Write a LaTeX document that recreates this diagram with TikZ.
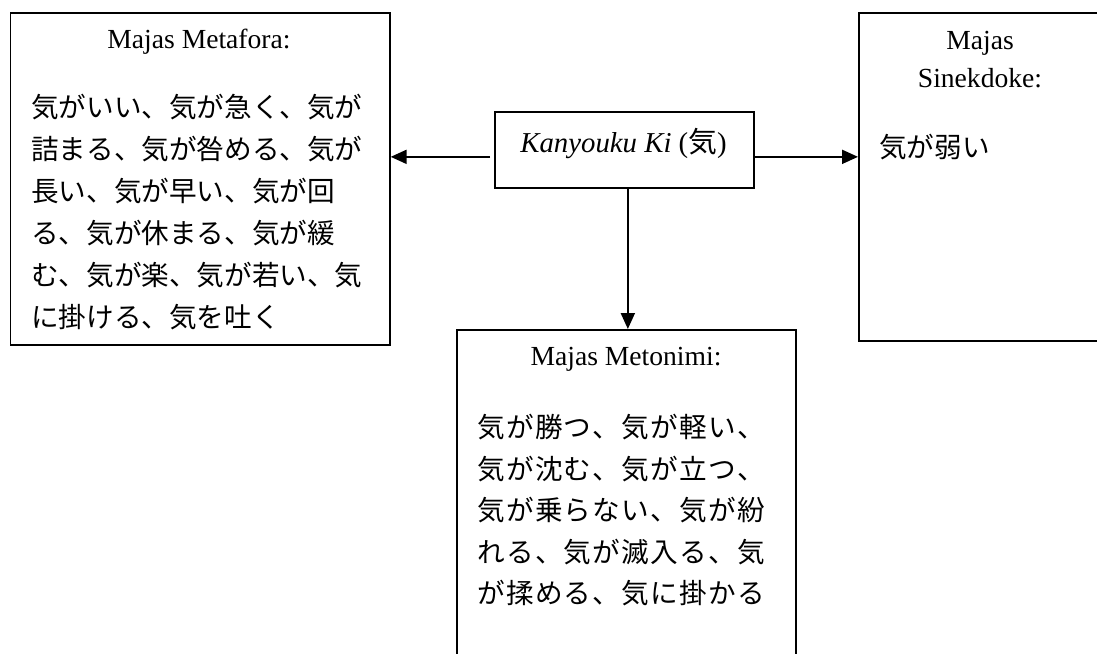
\documentclass[tikz,border=0pt]{standalone}
\usepackage{fontspec}
\setmainfont{Liberation Serif}
\newfontfamily\jp{Noto Sans CJK JP}
\usetikzlibrary{arrows.meta}
\newdimen\jspgap
\makeatletter
\newcommand\jsp[1]{\expandafter\jsp@a#1\relax}
\def\jsp@a#1{#1\jsp@b}
\def\jsp@b#1{\ifx\relax#1\else\kern\jspgap#1\expandafter\jsp@b\fi}
\makeatother
\begin{document}
\begin{tikzpicture}[x=1pt,y=-1pt,
  box/.style={draw, line width=1.7pt, inner sep=0pt, anchor=north west},
  title/.style={anchor=base, inner sep=0pt, font=\fontsize{27.6}{33}\selectfont},
  jpline/.style={anchor=base west, inner sep=0pt, font=\fontsize{27.6}{42}\jp},
  arr/.style={line width=2pt, -{Triangle[length=16pt,width=14pt]}}]
\useasboundingbox (0,0) rectangle (1097,653);
\clip (0,0) rectangle (1097,653);
\fill[white] (0,0) rectangle (1097,653);

% boxes
\node[box, minimum width=379.5pt, minimum height=332pt] (meta) at (9.5,12) {};
\node[box, minimum width=259pt, minimum height=76pt] (kanyo) at (494,111) {};
\node[box, minimum width=246pt, minimum height=328pt] (sinek) at (858,12) {};
\node[box, minimum width=339pt, minimum height=340pt] (meto) at (456,329) {};

% titles
\node[title] (tmeta) at (199,48) {Majas Metafora:};
\node[title] (tmeto) at (626,365) {Majas Metonimi:};
\node[title] (tsin1) at (980,49) {Majas};
\node[title] (tsin2) at (980,87) {Sinekdoke:};
\node[title, font=\fontsize{28.8}{33}\selectfont] (tkanyo) at (623.5,152) {\textit{Kanyouku Ki} ({\jp 気})};

% Japanese text
\foreach \t [count=\i from 0] in {気がいい、気が急く、気が,詰まる、気が咎める、気が,長い、気が早い、気が回,る、気が休まる、気が緩,む、気が楽、気が若い、気,に掛ける、気を吐く}
  \node[jpline] (ml\i) at (31,{117.5+42*\i}) {\t};

\node[jpline] (sl) at (879,157.5) {気が弱い};

\jspgap=1.3pt
\foreach \t [count=\i from 0] in {気が勝つ、気が軽い、,気が沈む、気が立つ、,気が乗らない、気が紛,れる、気が滅入る、気,が揉める、気に掛かる}
  \node[jpline] (nl\i) at (477,{437.5+41.6*\i}) {\jsp{\t}};

% connectors
\draw[arr, shorten <=4pt] ([yshift=-7pt]kanyo.west) -- ([yshift=-7pt]kanyo.west -| meta.east);
\draw[arr] ([yshift=-7pt]kanyo.east) -- ([yshift=-7pt]kanyo.east -| sinek.west);
\draw[arr] ([xshift=3.5pt]kanyo.south) -- ([xshift=3.5pt]kanyo.south |- meto.north);
\end{tikzpicture}
\end{document}
